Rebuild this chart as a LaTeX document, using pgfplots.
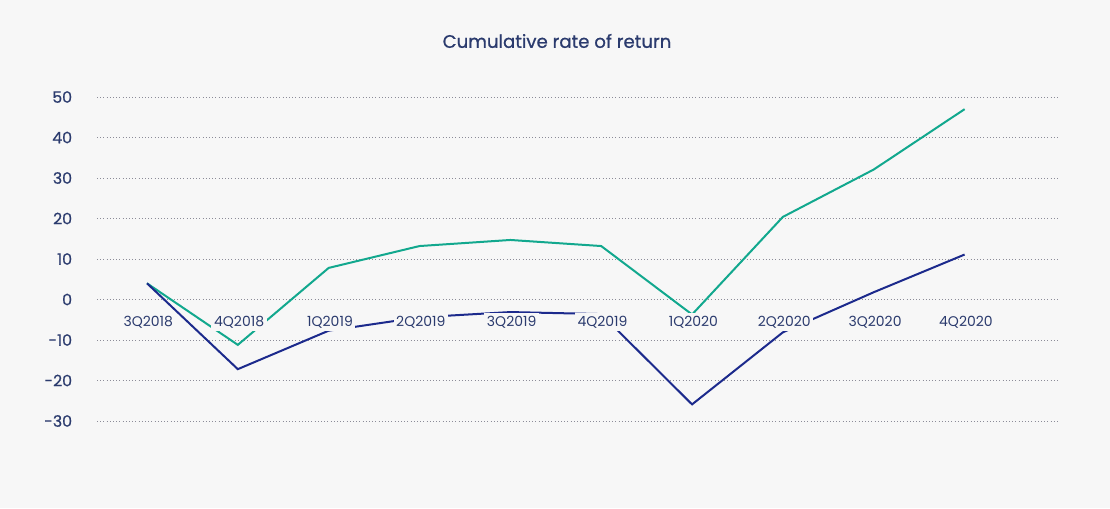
\documentclass[border=0pt]{standalone}
\usepackage{pgfplots}
\pgfplotsset{compat=1.18}
\usepackage{fontspec}
\setmainfont{Poppins}
\newfontfamily\titlefont[FakeBold=0.8]{Poppins}
\newfontfamily\ylabfont[FakeBold=0.5]{Poppins}
\definecolor{bg}{HTML}{F7F7F7}
\definecolor{teal}{HTML}{12A88E}
\definecolor{navy}{HTML}{1C2A8C}
\definecolor{txt}{HTML}{2B3B6E}
\definecolor{gridc}{HTML}{8C8C98}
\begin{document}
\begin{tikzpicture}
\node[font=\titlefont\fontsize{13.6}{16}\selectfont, text=txt] at (417.75pt,350.25pt) {Cumulative rate of return};
\begin{axis}[
  set layers,
  at={(72.75pt,65.25pt)}, anchor=south west,
  width=722.25pt, height=243pt, scale only axis,
  xmin=-0.55, xmax=10.05, ymin=-30, ymax=50,
  xtick={0,...,9},
  xticklabels={3Q2018,4Q2018,1Q2019,2Q2019,3Q2019,4Q2019,1Q2020,2Q2020,3Q2020,4Q2020},
  ytick={-30,-20,-10,0,10,20,30,40,50},
  yticklabels={-30,-20,-10,0,10,20,30,40,50},
  axis line style={draw=none},
  major tick length=0pt,
  ymajorgrids,
  grid style={dotted, gridc, line width=0.6pt},
  yticklabel style={anchor=east, inner sep=0pt, xshift=-18.5pt, font=\ylabfont\fontsize{11.8}{13}\selectfont, text=txt},
  xticklabel style={anchor=center, xshift=1pt, yshift=74.25pt, fill=bg, inner sep=2pt, font=\fontsize{10.5}{12}\selectfont, text=txt, /pgfplots/on layer=axis foreground},
  clip=false,
]
\addplot[teal, line width=1.5pt] coordinates {(0,4) (1,-11.2) (2,7.8) (3,13.2) (4,14.7) (5,13.2) (6,-3.7) (7,20.4) (8,32.1) (9,47)};
\addplot[navy, line width=1.5pt] coordinates {(0,4) (1,-17.2) (2,-7.7) (3,-4.4) (4,-3.1) (5,-3.6) (6,-25.9) (7,-8.1) (8,1.8) (9,11.1)};
\end{axis}
\begin{pgfonlayer}{axis background}
\fill[bg] (0,0) rectangle (832.5pt,381pt);
\end{pgfonlayer}
\pgfresetboundingbox
\useasboundingbox (0,0) rectangle (832.5pt,381pt);
\end{tikzpicture}
\end{document}
